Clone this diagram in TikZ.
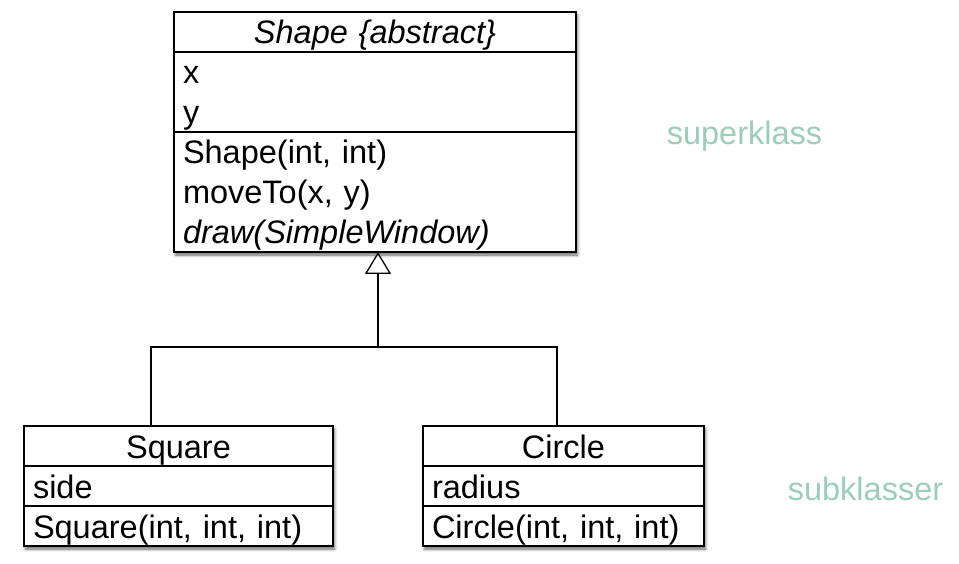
\documentclass[tikz,border=0pt]{standalone}
\usepackage{fontspec}
\setmainfont{Liberation Sans}
\usetikzlibrary{positioning,arrows.meta,shadows.blur,fit,backgrounds}
\definecolor{notegreen}{RGB}{155,205,185}
% one text line of a compartment: 32pt above, 8pt below the baseline
\newcommand{\umlrow}{\rule[-8pt]{0pt}{40pt}}

\begin{document}
\begin{tikzpicture}[x=1pt, y=-1pt, node distance=0pt, outer sep=0pt,
    font=\fontsize{32.5}{40}\selectfont]
  \tikzstyle{compart}=[
    draw,
    line width=1.8pt,
    fill=white,
    inner xsep=9pt,
    inner ysep=0pt
  ]
  \tikzstyle{classname}=[compart, align=center, minimum height=40pt]
  \tikzstyle{members}=[compart, align=left]
  \tikzstyle{note}=[text=notegreen]
  \tikzstyle{line}=[line width=1.3pt, draw=black]
  \tikzstyle{inherit}=[line, -{Triangle[open, width=26pt, length=22pt]}]
  \tikzstyle{boxshadow}=[inner sep=0pt, fill=white,
    blur shadow={shadow xshift=1.5pt, shadow yshift=-3pt, shadow blur radius=3pt, shadow opacity=60}]

  \useasboundingbox (0,0) rectangle (959,564);

  % superclass
  \node[classname, text width=384pt, anchor=north west] (shapeT) at (174,12) {\umlrow\itshape Shape \{abstract\}};
  \node[members, text width=384pt, minimum height=80pt, below=of shapeT] (shapeA) {\umlrow x\\\umlrow y};
  \node[members, text width=384pt, minimum height=120pt, below=of shapeA] (shapeM)
    {\umlrow Shape(int, int)\\\umlrow moveTo(x, y)\\\umlrow\itshape draw(SimpleWindow)};

  % subclasses
  \node[classname, text width=291pt, anchor=north west] (sqT) at (24,426) {\umlrow Square};
  \node[members, text width=291pt, minimum height=40pt, below=of sqT] (sqA) {\umlrow side};
  \node[members, text width=291pt, minimum height=40pt, below=of sqA] (sqM) {\umlrow Square(int, int, int)};

  \node[classname, text width=263pt, anchor=north west] (ciT) at (423,426) {\umlrow Circle};
  \node[members, text width=263pt, minimum height=40pt, below=of ciT] (ciA) {\umlrow radius};
  \node[members, text width=263pt, minimum height=40pt, below=of ciA] (ciM) {\umlrow Circle(int, int, int)};

  \begin{scope}[on background layer]
    \node[boxshadow, fit=(shapeT)(shapeM)] (shapeS) {};
    \node[boxshadow, fit=(sqT)(sqM)] (sqS) {};
    \node[boxshadow, fit=(ciT)(ciM)] (ciS) {};
  \end{scope}

  % inheritance
  \coordinate (join) at (378,347);
  \draw[line] ([xshift=-27.5pt]sqT.north) |- (join) -| ([xshift=-6.5pt]ciT.north);
  \draw[inherit] (join) -- (join |- shapeM.south);

  \node[note] (superL) at (744.5,136) {superklass};
  \node[note] (subL) at (865.5,489) {subklasser};
\end{tikzpicture}
\end{document}
